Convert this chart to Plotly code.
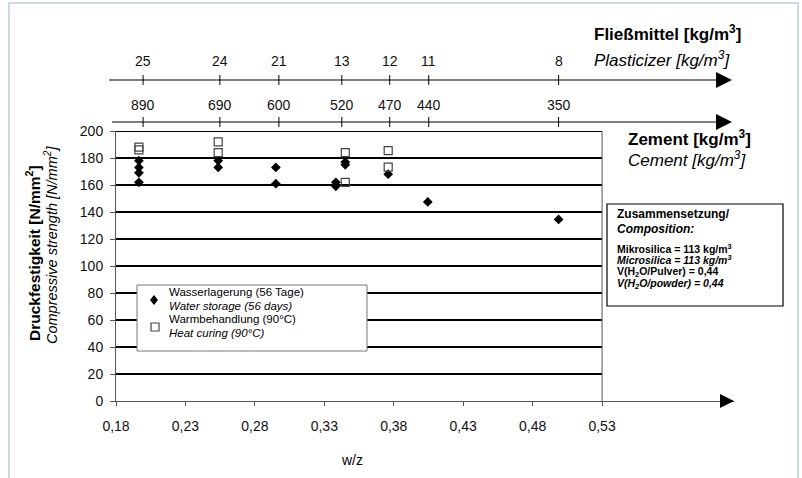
import plotly.graph_objects as go

# ---------------- data ----------------
wz_water = [0.1965, 0.1965, 0.1965, 0.1965, 0.2536, 0.2536, 0.2951, 0.2951,
            0.3383, 0.3383, 0.3451, 0.3451, 0.376, 0.4045, 0.4987]
fc_water = [178, 173, 169, 162, 178, 173, 173, 161,
            162, 159, 177, 175, 168, 147.5, 134.5]

wz_heat = [0.1965, 0.1965, 0.2536, 0.2536, 0.3451, 0.3451, 0.376, 0.376]
fc_heat = [188, 186, 192, 184, 184, 162, 185.5, 173.3]

top_tick_wz = [0.1995, 0.2548, 0.2973, 0.3426, 0.3771, 0.4052, 0.4987]
cement_labels = ["890", "690", "600", "520", "470", "440", "350"]
plasticizer_labels = ["25", "24", "21", "13", "12", "11", "8"]

x_ticks = [0.18, 0.23, 0.28, 0.33, 0.38, 0.43, 0.48, 0.53]
x_ticktext = ["0,18", "0,23", "0,28", "0,33", "0,38", "0,43", "0,48", "0,53"]
y_ticks = [0, 20, 40, 60, 80, 100, 120, 140, 160, 180, 200]
grid_vals = [20, 40, 60, 80, 100, 120, 140, 160, 180, 200]

legend_water = ["Wasserlagerung (56 Tage)", "<i>Water storage (56 days)</i>"]
legend_heat = ["Warmbehandlung (90°C)", "<i>Heat curing (90°C)</i>"]

# ---------------- layout helpers ----------------
W, H = 802, 478
L, R, T, B = 116, 68, 131, 77
PW, PH = W - L - R, H - T - B
X_MAX = 0.625


def px_x(p):
    return (p - L) / PW


def px_y(p):
    return (H - B - p) / PH


SANS = "Liberation Sans, Arial, sans-serif"

fig = go.Figure()
fig.add_trace(go.Scatter(
    x=wz_water, y=fc_water, mode="markers",
    name="Wasserlagerung (56 Tage) / Water storage (56 days)",
    marker=dict(symbol="diamond", size=7.5, color="black"),
))
fig.add_trace(go.Scatter(
    x=wz_heat, y=fc_heat, mode="markers",
    name="Warmbehandlung (90°C) / Heat curing (90°C)",
    marker=dict(symbol="square-open", size=8, color="#444",
                line=dict(width=1.2, color="#444")),
))

shapes = []
# horizontal grid lines (thick black)
for g in grid_vals:
    shapes.append(dict(type="line", xref="x", yref="y", x0=0.18, x1=0.53, y0=g, y1=g,
                       line=dict(color="black", width=2.2), layer="below"))
# right border
shapes.append(dict(type="line", xref="x", yref="y", x0=0.53, x1=0.53, y0=0, y1=200,
                   line=dict(color="#555", width=1), layer="below"))
# x-axis arrowhead
shapes.append(dict(type="path", xref="paper", yref="paper", xsizemode="pixel",
                   ysizemode="pixel", xanchor=1, yanchor=0,
                   path="M0,0 L-14,7 L-14,-7 Z",
                   fillcolor="black", line=dict(color="black", width=0)))

# top axes (cement, plasticizer)
for ypix, xstart in [(122, 112), (80, 109)]:
    shapes.append(dict(type="line", xref="paper", yref="paper",
                       x0=px_x(xstart), x1=px_x(720), y0=px_y(ypix), y1=px_y(ypix),
                       line=dict(color="black", width=1.2)))
    shapes.append(dict(type="path", xref="paper", yref="paper", xsizemode="pixel",
                       ysizemode="pixel", xanchor=px_x(732), yanchor=px_y(ypix),
                       path="M0,0 L-16,8 L-16,-8 Z", fillcolor="black",
                       line=dict(color="black", width=0)))
    for xv in top_tick_wz:
        shapes.append(dict(type="line", xref="x", yref="paper", x0=xv, x1=xv,
                           y0=px_y(ypix - 5), y1=px_y(ypix + 5),
                           line=dict(color="black", width=1)))

# legend box with symbols
shapes.append(dict(type="rect", xref="paper", yref="paper",
                   x0=px_x(137), x1=px_x(367), y0=px_y(285), y1=px_y(351),
                   line=dict(color="#777", width=1), fillcolor="white"))
shapes.append(dict(type="path", xref="paper", yref="paper", xsizemode="pixel",
                   ysizemode="pixel", xanchor=px_x(154), yanchor=px_y(300),
                   path="M0,5 L4,0 L0,-5 L-4,0 Z", fillcolor="black",
                   line=dict(color="black", width=0)))
shapes.append(dict(type="path", xref="paper", yref="paper", xsizemode="pixel",
                   ysizemode="pixel", xanchor=px_x(155), yanchor=px_y(327),
                   path="M-4,-4 L4,-4 L4,4 L-4,4 Z", fillcolor="white",
                   line=dict(color="#444", width=1.2)))

# composition box
shapes.append(dict(type="rect", xref="paper", yref="paper",
                   x0=px_x(607), x1=px_x(783), y0=px_y(204), y1=px_y(306),
                   line=dict(color="black", width=1.2), fillcolor="white"))
# outer frame
shapes.append(dict(type="rect", xref="paper", yref="paper",
                   x0=px_x(9), x1=px_x(798), y0=px_y(3), y1=px_y(490),
                   line=dict(color="#bccbdd", width=1.5), layer="below"))

ann = []
for xv, lab in zip(top_tick_wz, cement_labels):
    ann.append(dict(x=xv, y=px_y(105), xref="x", yref="paper", text=lab, showarrow=False,
                    xanchor="center", yanchor="middle",
                    font=dict(family=SANS, size=14, color="#111")))
for xv, lab in zip(top_tick_wz, plasticizer_labels):
    ann.append(dict(x=xv, y=px_y(61), xref="x", yref="paper", text=lab, showarrow=False,
                    xanchor="center", yanchor="middle",
                    font=dict(family=SANS, size=14, color="#111")))


def txt(x, y, text, size, xanchor="left", angle=0):
    ann.append(dict(x=px_x(x), y=px_y(y), xref="paper", yref="paper", text=text,
                    showarrow=False, xanchor=xanchor, yanchor="middle", textangle=angle,
                    font=dict(family=SANS, size=size, color="black")))


for yy, t in zip([292, 306], legend_water):
    txt(167, yy, t, 11.5)
for yy, t in zip([319, 333], legend_heat):
    txt(167, yy, t, 11.5)

txt(592, 33, "<b>Fließmittel [kg/m<sup>3</sup>]</b>", 17)
txt(592, 59, "<i>Plasticizer [kg/m<sup>3</sup>]</i>", 17)
txt(626, 138, "<b>Zement [kg/m<sup>3</sup>]</b>", 17)
txt(626, 159, "<i>Cement [kg/m<sup>3</sup>]</i>", 17)

txt(615, 214, "<b>Zusammensetzung/</b>", 12)
txt(615, 228.5, "<b><i>Composition:</i></b>", 12)
txt(615, 248, "<b>Mikrosilica = 113 kg/m<sup>3</sup></b>", 10.5)
txt(615, 259.5, "<b><i>Microsilica = 113 kg/m<sup>3</sup></i></b>", 10.5)
txt(615, 271.5, "<b>V(H<sub>2</sub>O/Pulver) = 0,44</b>", 10.5)
txt(615, 283.5, "<b><i>V(H<sub>2</sub>O/powder) = 0,44</i></b>", 10.5)

txt(352, 460, "w/z", 14, xanchor="center")
txt(33, 253, "<b>Druckfestigkeit [N/mm<sup>2</sup>]</b>", 15.5, xanchor="center", angle=-90)
txt(51, 245, "<i>Compressive strength [N/mm<sup>2</sup>]</i>", 14.5, xanchor="center", angle=-90)

fig.update_layout(
    width=W, height=H,
    margin=dict(l=L, r=R, t=T, b=B),
    paper_bgcolor="white", plot_bgcolor="white",
    shapes=shapes, annotations=ann,
    showlegend=False,
    xaxis=dict(range=[0.18, X_MAX], tickvals=x_ticks, ticktext=x_ticktext,
               showgrid=False, zeroline=False, showline=True, linecolor="#555",
               linewidth=1, ticks="outside", ticklen=4, tickcolor="#555",
               tickfont=dict(family=SANS, size=14, color="#111"),
               ticklabelstandoff=8),
    yaxis=dict(range=[0, 200], tickvals=y_ticks, showgrid=False, zeroline=False,
               showline=True, linecolor="#555", linewidth=1, ticks="outside",
               ticklen=5, tickcolor="#555",
               tickfont=dict(family=SANS, size=14, color="#111"),
               ticklabelstandoff=4),
)

fig.write_html("out.html",
               config={"displayModeBar": False},
               post_script="document.body.style.margin='0';"
                           "document.body.style.overflow='hidden';")
